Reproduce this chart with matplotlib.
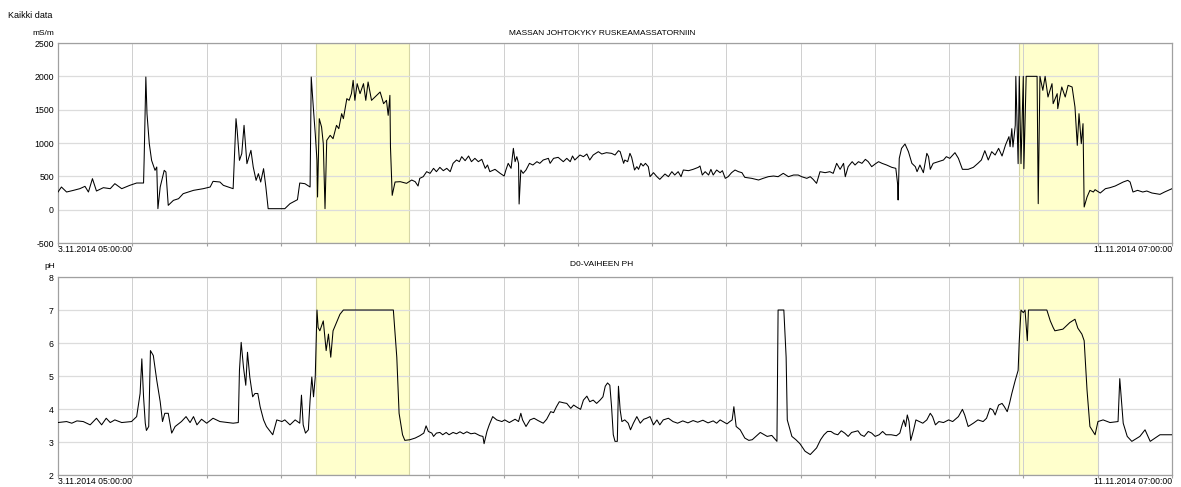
import numpy as np
import matplotlib
matplotlib.use('Agg')
import matplotlib.pyplot as plt

plt.rcParams['font.family'] = ['Liberation Sans', 'DejaVu Sans']

# aika tunteina alusta (3.11.2014 05:00 -> 11.11.2014 07:00 = 194 h)
t_start_label = '3.11.2014 05:00:00'
t_end_label = '11.11.2014 07:00:00'
t_total = 194.0

# johtokyky mS/m, (h, arvo)
cond_pts = [
    (0.0, 265), (0.6, 340), (1.5, 265), (2.7, 290), (3.8, 315), (4.7, 350), (5.3, 265), (6.0, 465),
    (6.7, 280), (7.9, 330), (9.1, 315), (9.9, 390), (11.1, 315), (12.5, 365), (13.7, 400), (14.9, 400),
    (15.0, 740), (15.3, 1990), (15.5, 1440), (15.9, 990), (16.3, 740), (16.9, 590), (17.2, 640),
    (17.4, 15), (17.8, 340), (18.5, 590), (18.8, 565), (19.2, 65), (20.1, 140), (21.0, 165),
    (21.8, 240), (23.6, 290), (25.3, 315), (26.5, 340), (27.0, 425), (28.2, 415), (28.8, 365),
    (30.5, 315), (31.0, 1365), (31.2, 1190), (31.6, 740), (32.0, 840), (32.4, 1265), (32.9, 690),
    (33.6, 890), (34.0, 640), (34.5, 440), (34.9, 540), (35.3, 415), (35.8, 615), (36.2, 340),
    (36.6, 15), (39.5, 15), (40.4, 90), (41.7, 150), (42.1, 400), (43.0, 390), (43.9, 340),
    (44.1, 1990), (44.5, 1490), (44.8, 1140), (45.1, 740), (45.2, 190), (45.5, 1365), (45.9, 1240),
    (46.2, 990), (46.5, 15), (46.8, 1040), (47.4, 1115), (47.9, 1065), (48.5, 1265), (48.9, 1215),
    (49.4, 1440), (49.7, 1365), (50.3, 1665), (50.7, 1640), (51.1, 1740), (51.4, 1940), (51.7, 1640),
    (52.1, 1890), (52.6, 1740), (53.2, 1890), (53.6, 1640), (54.0, 1915), (54.6, 1640), (55.2, 1690),
    (56.1, 1765), (56.7, 1590), (57.2, 1640), (57.5, 1415),
    (57.8, 1715), (57.9, 940), (58.2, 215), (58.7, 415),
    (59.6, 420), (60.7, 395), (61.6, 445), (62.2, 420), (62.7, 355), (63.0, 470), (63.6, 495),
    (64.2, 570), (64.8, 545), (65.4, 620), (65.9, 570), (66.5, 635), (67.1, 585), (67.7, 620),
    (68.3, 570), (68.8, 695), (69.4, 745), (69.9, 720), (70.3, 795), (70.9, 735), (71.5, 805),
    (72.0, 720), (72.6, 770), (73.2, 720), (73.8, 755), (74.4, 620), (74.8, 670), (75.2, 570),
    (76.1, 605), (77.0, 545), (77.7, 505), (78.0, 595), (78.4, 695), (78.9, 620), (79.3, 920),
    (79.6, 720), (79.9, 795), (80.2, 695), (80.3, 85), (80.6, 595), (81.0, 545), (81.5, 595),
    (82.1, 695), (82.7, 670), (83.4, 720), (83.9, 695), (84.5, 745), (85.4, 770), (85.7, 695),
    (86.3, 770), (87.1, 785), (88.0, 720), (88.6, 770), (89.2, 720), (89.6, 805), (90.0, 745),
    (90.9, 820), (91.5, 795), (92.1, 835), (92.6, 745), (93.2, 820), (94.1, 870), (94.7, 835),
    (95.5, 855), (96.4, 845), (97.0, 820), (97.6, 885), (97.9, 870), (98.5, 695), (98.7, 745),
    (99.2, 720), (99.6, 845), (99.9, 785), (100.4, 595), (100.8, 645), (101.1, 605), (101.5, 695),
    (101.9, 655), (102.3, 695), (102.8, 645), (103.1, 495), (103.7, 555), (104.3, 495), (104.8, 455),
    (105.7, 535), (106.3, 495), (106.9, 570), (107.4, 520), (108.0, 570), (108.5, 495), (108.9, 595),
    (109.8, 585), (110.6, 605), (111.5, 635), (111.8, 655), (112.2, 520), (112.7, 570), (113.3, 520),
    (113.7, 605), (114.1, 520), (114.7, 595), (115.3, 555), (115.7, 585), (116.2, 470), (116.7, 495),
    (117.3, 555), (117.9, 595), (118.5, 570), (119.1, 555), (119.6, 485), (120.8, 470), (122.0, 445),
    (122.8, 470), (123.7, 495), (124.6, 505), (125.4, 495), (126.3, 545), (127.2, 495), (128.1, 520),
    (128.9, 520), (129.5, 495), (130.4, 470), (131.0, 495), (131.5, 455), (132.1, 395), (132.7, 570),
    (133.6, 555), (134.4, 570), (135.0, 545), (135.6, 695), (136.2, 605), (136.8, 695), (137.1, 495),
    (137.6, 645), (138.3, 720), (138.8, 670), (139.4, 720), (140.0, 695), (140.6, 755), (141.1, 720),
    (141.7, 645), (142.3, 685), (142.9, 720), (143.5, 695), (144.3, 670), (145.2, 635), (145.9, 620),
    (146.2, 395), (146.3, 145), (146.5, 770), (146.9, 920), (147.5, 985), (148.1, 870), (148.7, 695),
    (149.3, 645), (149.6, 570), (150.1, 670), (150.7, 555), (151.3, 845), (151.6, 795), (151.9, 605),
    (152.4, 695), (153.3, 720), (154.2, 745), (154.7, 795), (155.3, 770), (156.2, 855), (156.8, 770),
    (157.5, 605), (158.5, 605), (159.4, 635), (160.2, 695), (160.8, 745), (161.4, 885), (162.0, 745),
    (162.6, 870), (163.2, 820), (163.8, 920), (164.4, 805), (165.0, 970), (165.6, 1095), (165.8, 945),
    (166.1, 1215), (166.3, 940), (166.7, 1265),
    (166.8, 2000), (167.2, 690), (167.4, 2000), (167.7, 690), (168.1, 2000), (168.2, 615),
    (168.6, 2000), (170.5, 2000), (170.7, 90), (171.0, 2000), (171.5, 1790), (171.9, 2000),
    (172.4, 1690), (173.1, 1890), (173.3, 1590), (174.0, 1740), (174.1, 1515), (174.8, 1840),
    (175.4, 1690), (175.9, 1865), (176.6, 1840), (177.1, 1540), (177.5, 965), (177.8, 1440),
    (178.2, 990), (178.5, 1290), (178.7, 40), (179.2, 190), (179.7, 290), (180.3, 265), (180.6, 300),
    (181.5, 250), (182.4, 315), (183.2, 330), (184.1, 355), (184.9, 390), (185.5, 415), (186.3, 440),
    (186.7, 415), (187.2, 265), (188.0, 290), (188.9, 265), (189.6, 280), (190.5, 250), (191.9, 230),
    (192.7, 265), (194.0, 315),
]

# D0-vaiheen pH, (h, arvo)
ph_pts = [
    (0.0, 3.59), (1.5, 3.62), (2.4, 3.57), (3.3, 3.64), (4.4, 3.62), (5.6, 3.52), (6.7, 3.72),
    (7.6, 3.52), (8.4, 3.72), (9.1, 3.59), (9.9, 3.67), (11.1, 3.59), (12.8, 3.62), (13.7, 3.77),
    (14.3, 4.47), (14.6, 5.52), (14.9, 4.37), (15.2, 3.57), (15.4, 3.35), (15.8, 3.47), (16.1, 5.77),
    (16.6, 5.62), (17.2, 4.87), (17.8, 4.22), (18.2, 3.62), (18.6, 3.87), (19.2, 3.87), (19.8, 3.27),
    (20.4, 3.47), (21.5, 3.62), (22.3, 3.77), (23.0, 3.59), (23.6, 3.77), (24.2, 3.52), (25.0, 3.69),
    (25.9, 3.57), (27.0, 3.72), (28.2, 3.62), (30.5, 3.57), (31.4, 3.59), (31.6, 5.17), (31.9, 6.02),
    (32.3, 5.27), (32.7, 4.72), (33.0, 5.72), (33.4, 4.97), (33.9, 4.37), (34.3, 4.47), (34.8, 4.47),
    (35.2, 4.07), (35.8, 3.67), (36.3, 3.47), (37.4, 3.22), (38.1, 3.67), (39.0, 3.62), (39.5, 3.67),
    (40.4, 3.52), (41.3, 3.67), (42.1, 3.57), (42.4, 4.42), (42.7, 3.52), (43.1, 3.27), (43.6, 3.37),
    (43.9, 4.27), (44.2, 4.97), (44.5, 4.37), (44.8, 4.97), (45.1, 7.0), (45.3, 6.47), (45.6, 6.37),
    (46.2, 6.67), (46.7, 5.77), (47.1, 6.27), (47.5, 5.57), (47.9, 6.37), (49.1, 6.87), (49.7, 7.0),
    (58.4, 7.0), (59.0, 5.57), (59.4, 3.87),
    (60.0, 3.22), (60.4, 3.05), (61.3, 3.07), (62.2, 3.12), (63.0, 3.19), (63.7, 3.27), (64.1, 3.49),
    (64.5, 3.32), (65.1, 3.27), (65.4, 3.17), (65.9, 3.27), (66.5, 3.29), (67.0, 3.22), (67.6, 3.29),
    (68.1, 3.22), (68.8, 3.29), (69.4, 3.25), (70.0, 3.31), (70.6, 3.25), (71.2, 3.31), (71.9, 3.25),
    (72.6, 3.27), (73.5, 3.19), (74.0, 3.17), (74.2, 2.95), (74.7, 3.32), (75.1, 3.52), (75.7, 3.77),
    (76.4, 3.67), (77.3, 3.62), (77.8, 3.67), (78.6, 3.59), (79.6, 3.69), (80.2, 3.62), (80.6, 3.87),
    (80.9, 3.67), (81.5, 3.47), (82.2, 3.67), (82.9, 3.72), (83.6, 3.65), (84.5, 3.57), (85.1, 3.69),
    (85.8, 3.92), (86.3, 3.89), (86.8, 4.07), (87.3, 4.22), (88.0, 4.19), (88.6, 4.17), (89.3, 4.02),
    (89.8, 4.12), (90.4, 4.05), (91.0, 3.99), (91.5, 4.27), (92.1, 4.39), (92.6, 4.22), (93.2, 4.27),
    (93.8, 4.17), (94.4, 4.27), (94.9, 4.37), (95.3, 4.69), (95.7, 4.79), (96.1, 4.72), (96.4, 4.07),
    (96.7, 3.22), (97.0, 3.02), (97.4, 3.02), (97.6, 4.69), (97.9, 3.97), (98.2, 3.62), (98.7, 3.67),
    (99.3, 3.57), (99.7, 3.37), (100.2, 3.57), (100.8, 3.77), (101.4, 3.57), (102.0, 3.69),
    (102.5, 3.72), (103.1, 3.77), (103.7, 3.52), (104.3, 3.67), (104.8, 3.52), (105.4, 3.67),
    (106.3, 3.72), (107.1, 3.62), (107.9, 3.57), (108.8, 3.64), (109.7, 3.58), (110.6, 3.65),
    (111.4, 3.60), (112.3, 3.66), (113.2, 3.58), (114.1, 3.64), (114.7, 3.57), (115.3, 3.67),
    (116.0, 3.60), (116.5, 3.55), (117.0, 3.62), (117.4, 3.67), (117.7, 4.07), (118.1, 3.47),
    (118.8, 3.37), (119.6, 3.12), (120.3, 3.05), (120.9, 3.07), (121.6, 3.18), (122.3, 3.29),
    (123.0, 3.22), (123.5, 3.17), (124.3, 3.20), (125.2, 3.02), (125.4, 7.0), (126.4, 7.0),
    (126.8, 5.57), (127.0, 3.67), (127.8, 3.17), (128.5, 3.07), (129.2, 2.95), (130.1, 2.72),
    (131.0, 2.62), (132.1, 2.82), (132.8, 3.07), (133.4, 3.22), (134.0, 3.32), (134.6, 3.32),
    (135.2, 3.25), (135.8, 3.22), (136.4, 3.34), (137.0, 3.27), (137.6, 3.17), (138.2, 3.29),
    (139.3, 3.34), (139.8, 3.22), (140.4, 3.17), (141.1, 3.32), (141.7, 3.27), (142.3, 3.17),
    (143.0, 3.22), (143.6, 3.32), (144.2, 3.22), (145.1, 3.22), (146.0, 3.19), (146.6, 3.27),
    (147.0, 3.52), (147.3, 3.67), (147.6, 3.47), (147.9, 3.82), (148.2, 3.62), (148.5, 3.05),
    (149.0, 3.37), (149.4, 3.67), (150.0, 3.62), (150.6, 3.57), (151.3, 3.67), (151.9, 3.87),
    (152.3, 3.77), (152.8, 3.52), (153.4, 3.62), (154.2, 3.59), (155.1, 3.67), (155.8, 3.62),
    (156.8, 3.77), (157.5, 3.99), (157.9, 3.82), (158.5, 3.47), (159.4, 3.57), (160.2, 3.67),
    (161.1, 3.62), (161.7, 3.72), (162.3, 4.02), (162.8, 3.97), (163.2, 3.82), (163.8, 4.12),
    (164.4, 4.17), (164.8, 4.07), (165.3, 3.92), (165.7, 4.17), (166.1, 4.47), (166.7, 4.87),
    (167.2, 5.17), (167.4, 6.07), (167.7, 7.0), (168.1, 6.92), (168.4, 7.0), (168.8, 6.07),
    (169.0, 7.0), (172.2, 7.0), (172.8, 6.67), (173.3, 6.47), (173.6, 6.37), (175.0, 6.42),
    (176.2, 6.62), (177.1, 6.72), (177.6, 6.45), (178.3, 6.27), (178.7, 6.07), (179.2, 4.57),
    (179.7, 3.47), (180.6, 3.22), (181.1, 3.62), (182.0, 3.67), (183.2, 3.59), (184.6, 3.62),
    (184.9, 4.92), (185.5, 3.57), (186.2, 3.17), (187.0, 3.02), (188.4, 3.17), (189.3, 3.37),
    (190.2, 3.02), (191.9, 3.22), (194.0, 3.22),
]

# korostetut jaksot (h)
spans = [(44.9, 61.1), (167.4, 181.1)]

cond_ticks = [-500, 0, 500, 1000, 1500, 2000, 2500]
ph_ticks = [2, 3, 4, 5, 6, 7, 8]

cond_t, cond_v = zip(*cond_pts)
ph_t, ph_v = zip(*ph_pts)

fig = plt.figure(figsize=(11.81, 4.87), dpi=100)
ax1 = fig.add_axes([0.0491, 0.501, 0.9433, 0.4107])
ax2 = fig.add_axes([0.0491, 0.0246, 0.9433, 0.4066])

panels = [
    (ax1, cond_t, cond_v, cond_ticks, (-500, 2500)),
    (ax2, ph_t, ph_v, ph_ticks, (2, 8)),
]

for ax, t, v, yt, ylim in panels:
    for a, b in spans:
        ax.axvspan(a, b, facecolor='#ffffcc', edgecolor='#d6d6a6', lw=0.8, zorder=0)
    ax.plot(t, v, color='black', lw=0.75, zorder=3)
    ax.set_xlim(0, t_total)
    ax.set_ylim(*ylim)
    ax.set_xticks(np.linspace(0, t_total, 16))
    ax.set_xticklabels([])
    ax.set_yticks(yt)
    ax.set_yticklabels([str(y) for y in yt], fontsize=6.3)
    ax.tick_params(axis='y', length=0, pad=3)
    ax.tick_params(axis='x', length=2, color='#a0a0a0', direction='out')
    ax.grid(True, axis='y', color='#dcdcdc', lw=0.9, zorder=1)
    ax.grid(True, axis='x', color='#cfcfcf', lw=0.7, zorder=1)
    ax.set_axisbelow(True)
    for s in ax.spines.values():
        s.set_color('#a0a0a0')
        s.set_linewidth(0.9)
    ax.text(0, -0.012, t_start_label, transform=ax.transAxes, ha='left', va='top', fontsize=6.2)
    ax.text(1, -0.012, t_end_label, transform=ax.transAxes, ha='right', va='top', fontsize=6.2)

fig.text(0.007, 0.969, 'Kaikki data', ha='left', va='center', fontsize=6.5)
fig.text(0.0365, 0.931, 'mS/m', ha='center', va='center', fontsize=6)
fig.text(0.042, 0.452, 'pH', ha='center', va='center', fontsize=6)
fig.text(0.5097, 0.932, 'MASSAN JOHTOKYKY RUSKEAMASSATORNIIN', ha='center', va='center', fontsize=6)
fig.text(0.5097, 0.456, 'D0-VAIHEEN PH', ha='center', va='center', fontsize=6)

plt.savefig('out.png', dpi=100)
